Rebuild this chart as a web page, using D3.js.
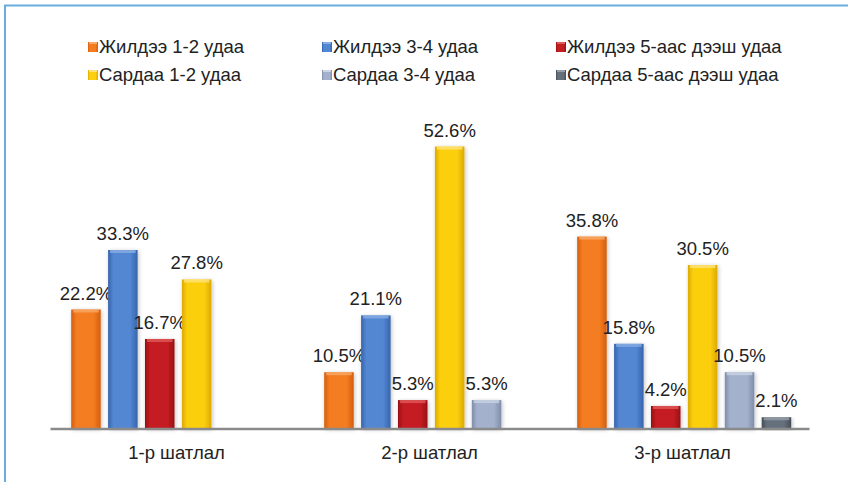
<!DOCTYPE html>
<html>
<head>
<meta charset="utf-8">
<script src="https://cdn.jsdelivr.net/npm/d3@7"></script>
<style>
  html, body { margin: 0; padding: 0; background: #fff; }
  svg { display: block; font-family: "Liberation Sans", Arial, sans-serif; }
</style>
</head>
<body>
<svg id="chart" width="848" height="482"></svg>
<script>
// Categories (levels) and per-series percentages
const categories = ["1-р шатлал", "2-р шатлал", "3-р шатлал"];
const seriesNames = [
  "Жилдээ 1-2 удаа", "Жилдээ 3-4 удаа", "Жилдээ 5-аас дээш удаа",
  "Сардаа 1-2 удаа", "Сардаа 3-4 удаа", "Сардаа 5-аас дээш удаа"
];
const jildee12 = [22.2, 10.5, 35.8];
const jildee34 = [33.3, 21.1, 15.8];
const jildee5 = [16.7, 5.3, 4.2];
const sardaa12 = [27.8, 52.6, 30.5];
const sardaa34 = [null, 5.3, 10.5];
const sardaa5 = [null, null, 2.1];
const seriesValues = [jildee12, jildee34, jildee5, sardaa12, sardaa34, sardaa5];

// Bar colours: [edge, centre, top highlight]
const palette = [
  ["#d45e0c", "#f47d22", "#f9a866"],
  ["#3764ac", "#5287d2", "#88ace4"],
  ["#9a0f14", "#c41e22", "#e05a5a"],
  ["#dcaa00", "#fccf10", "#ffe27a"],
  ["#7f8daa", "#a3b1cc", "#c9d3e4"],
  ["#454d57", "#66707b", "#959ea8"]
];

const svg = d3.select("#chart");
const defs = svg.append("defs");

palette.forEach((c, i) => {
  const g = defs.append("linearGradient").attr("id", "grad" + i)
    .attr("x1", "0%").attr("x2", "100%").attr("y1", "0%").attr("y2", "0%");
  g.append("stop").attr("offset", "0%").attr("stop-color", c[0]);
  g.append("stop").attr("offset", "18%").attr("stop-color", c[1]);
  g.append("stop").attr("offset", "75%").attr("stop-color", c[1]);
  g.append("stop").attr("offset", "100%").attr("stop-color", c[0]);
});

const shadow = defs.append("filter").attr("id", "shadow")
  .attr("x", "-30%").attr("y", "-10%").attr("width", "160%").attr("height", "130%");
shadow.append("feGaussianBlur").attr("in", "SourceAlpha").attr("stdDeviation", 2);
shadow.append("feOffset").attr("dx", 1).attr("dy", 1).attr("result", "blur");
shadow.append("feComponentTransfer").append("feFuncA").attr("type", "linear").attr("slope", 0.25);
const merge = shadow.append("feMerge");
merge.append("feMergeNode");
merge.append("feMergeNode").attr("in", "SourceGraphic");

// Frame lines
svg.append("path")
  .attr("d", "M5,482V5.5H848")
  .attr("fill", "none")
  .attr("stroke", "#6aaee0")
  .attr("stroke-width", 2);

// Scales
const x0 = d3.scaleBand().domain(categories).range([50, 809]);
const x1 = d3.scaleBand().domain(d3.range(seriesNames.length))
  .range([17.5, 238.9]).paddingInner(0.2).paddingOuter(0.1);
const y = d3.scaleLinear().domain([0, 60]).range([428.5, 106.9]);

const fmt = v => v.toFixed(1) + "%";

// Bars
const groups = svg.selectAll("g.cat").data(categories).join("g")
  .attr("class", "cat")
  .attr("transform", d => `translate(${x0(d)},0)`);

groups.each(function(cat, ci) {
  const g = d3.select(this);
  const items = seriesValues.map((vals, si) => ({ si, v: vals[ci] }))
    .filter(d => d.v != null);
  const bars = g.selectAll("g.bar").data(items).join("g").attr("class", "bar");
  bars.append("rect")
    .attr("x", d => x1(d.si))
    .attr("y", d => y(d.v))
    .attr("width", x1.bandwidth())
    .attr("height", d => y(0) - y(d.v))
    .attr("fill", d => `url(#grad${d.si})`)
    .attr("filter", "url(#shadow)");
  // bevelled top edge
  bars.append("rect")
    .attr("x", d => x1(d.si) + 2)
    .attr("y", d => y(d.v))
    .attr("width", x1.bandwidth() - 4)
    .attr("height", 3)
    .attr("fill", d => palette[d.si][2])
    .attr("opacity", 0.8);
  bars.append("text")
    .attr("x", d => x1(d.si) + x1.bandwidth() / 2)
    .attr("y", d => y(d.v) - 10)
    .attr("text-anchor", "middle")
    .attr("font-size", 18.5)
    .attr("fill", "#222")
    .text(d => fmt(d.v));
});

// Category axis
const xAxis = svg.append("g")
  .attr("transform", `translate(0,${y(0)})`)
  .call(d3.axisBottom(x0).tickSize(0).tickPadding(17));
xAxis.select(".domain").attr("stroke", "#8a8a8a").attr("stroke-width", 2.5);
xAxis.selectAll("text")
  .attr("font-size", 18.5)
  .attr("font-family", "Liberation Sans, Arial, sans-serif")
  .attr("fill", "#222");

// Legend
const legendCols = [88, 322, 556];
const legendRows = [53, 81];
const legend = svg.append("g").selectAll("g").data(seriesNames).join("g")
  .attr("transform", (d, i) => `translate(${legendCols[i % 3]},${legendRows[Math.floor(i / 3)]})`);
legend.append("rect")
  .attr("x", 0).attr("y", -11).attr("width", 10).attr("height", 10)
  .attr("fill", (d, i) => `url(#grad${i})`);
legend.append("rect")
  .attr("x", 1).attr("y", -11).attr("width", 8).attr("height", 2)
  .attr("fill", (d, i) => palette[i][2]);
legend.append("text")
  .attr("x", 11).attr("y", 0)
  .attr("font-size", 18.5)
  .attr("fill", "#222")
  .text(d => d);
</script>
</body>
</html>
